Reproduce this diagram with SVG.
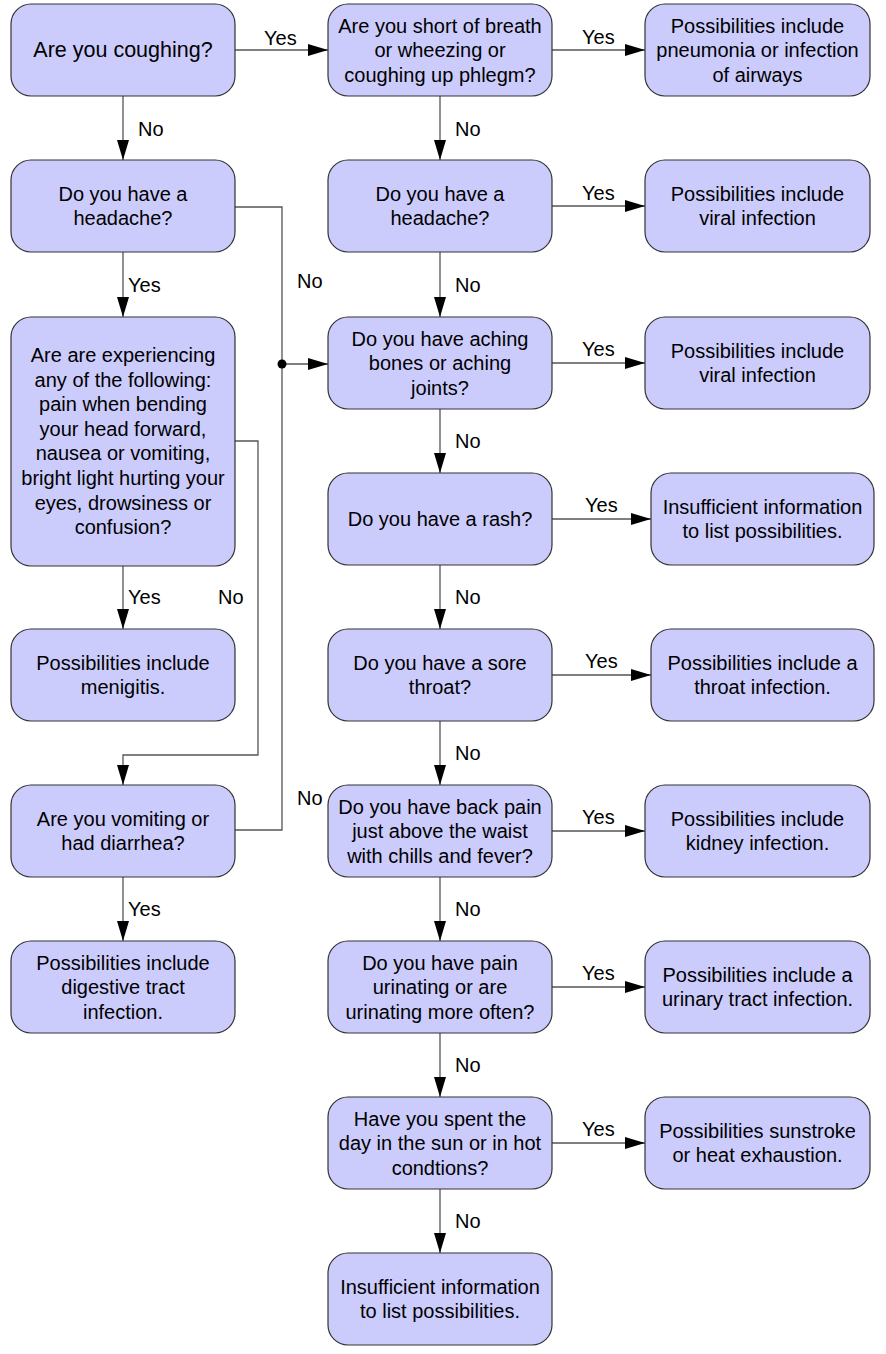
<svg xmlns="http://www.w3.org/2000/svg" width="886" height="1354" viewBox="0 0 886 1354">
<style>
.n rect{fill:#ccccfc;stroke:#333;stroke-width:1.2}
.n text{font-family:"Liberation Sans",Arial,sans-serif;font-size:20px;fill:#000;text-anchor:middle}
.c path{fill:none;stroke:#555;stroke-width:1.3}
.l text{font-family:"Liberation Sans",Arial,sans-serif;font-size:20px;fill:#000}
</style>
<defs>
<marker id="a" markerUnits="userSpaceOnUse" markerWidth="20" markerHeight="12" refX="20" refY="6" orient="auto">
<path d="M0,0 L20,6 L0,12 z" fill="#000"/>
</marker>
</defs>
<rect width="886" height="1354" fill="#fff"/>
<g class="c">
<path d="M235,50 H328" marker-end="url(#a)"/>
<path d="M552,50 H645" marker-end="url(#a)"/>
<path d="M123,96 V160" marker-end="url(#a)"/>
<path d="M440,96 V160" marker-end="url(#a)"/>
<path d="M552,206 H645" marker-end="url(#a)"/>
<path d="M123,252 V317" marker-end="url(#a)"/>
<path d="M440,252 V317" marker-end="url(#a)"/>
<path d="M235,207 H282 V364"/>
<path d="M235,830 H282 V364"/>
<path d="M282,364 H328" marker-end="url(#a)"/>
<circle cx="282" cy="364" r="4.5" fill="#000"/>
<path d="M552,363 H645" marker-end="url(#a)"/>
<path d="M440,409 V473" marker-end="url(#a)"/>
<path d="M552,519 H651" marker-end="url(#a)"/>
<path d="M440,565 V629" marker-end="url(#a)"/>
<path d="M123,566 V629" marker-end="url(#a)"/>
<path d="M235,441 H258 V755 H123 V785" marker-end="url(#a)"/>
<path d="M552,675 H651" marker-end="url(#a)"/>
<path d="M440,721 V785" marker-end="url(#a)"/>
<path d="M552,831 H645" marker-end="url(#a)"/>
<path d="M123,877 V941" marker-end="url(#a)"/>
<path d="M440,877 V941" marker-end="url(#a)"/>
<path d="M552,987 H645" marker-end="url(#a)"/>
<path d="M440,1033 V1097" marker-end="url(#a)"/>
<path d="M552,1143 H645" marker-end="url(#a)"/>
<path d="M440,1189 V1253" marker-end="url(#a)"/>
</g>
<g class="l">
<text x="264" y="45">Yes</text>
<text x="138" y="136">No</text>
<text x="128" y="292">Yes</text>
<text x="297" y="288">No</text>
<text x="128" y="604">Yes</text>
<text x="218" y="604">No</text>
<text x="297" y="805">No</text>
<text x="128" y="916">Yes</text>
<text x="455" y="136">No</text>
<text x="455" y="292">No</text>
<text x="455" y="448">No</text>
<text x="455" y="604">No</text>
<text x="455" y="760">No</text>
<text x="455" y="916">No</text>
<text x="455" y="1072">No</text>
<text x="455" y="1228">No</text>
<text x="582" y="44">Yes</text>
<text x="582" y="200">Yes</text>
<text x="582" y="356">Yes</text>
<text x="585" y="512">Yes</text>
<text x="585" y="668">Yes</text>
<text x="582" y="824">Yes</text>
<text x="582" y="980">Yes</text>
<text x="582" y="1136">Yes</text>
</g>
<g id="L1" class="n"><rect x="11" y="4" width="224" height="92" rx="20"/><text x="123" y="57" style="font-size:21.5px">Are you coughing?</text></g>
<g id="L2" class="n"><rect x="11" y="160" width="224" height="92" rx="20"/><text x="123" y="201">Do you have a</text><text x="123" y="225">headache?</text></g>
<g id="L3" class="n"><rect x="11" y="317" width="224" height="249" rx="20"/>
<text x="123" y="362">Are are experiencing</text>
<text x="123" y="386.6">any of the following:</text>
<text x="123" y="411.2">pain when bending</text>
<text x="123" y="435.8">your head forward,</text>
<text x="123" y="460.4">nausea or vomiting,</text>
<text x="123" y="485">bright light hurting your</text>
<text x="123" y="509.6">eyes, drowsiness or</text>
<text x="123" y="534.2">confusion?</text></g>
<g id="L4" class="n"><rect x="11" y="629" width="224" height="92" rx="20"/><text x="123" y="670">Possibilities include</text><text x="123" y="694">menigitis.</text></g>
<g id="L5" class="n"><rect x="11" y="785" width="224" height="92" rx="20"/><text x="123" y="826">Are you vomiting or</text><text x="123" y="850">had diarrhea?</text></g>
<g id="L6" class="n"><rect x="11" y="941" width="224" height="92" rx="20"/><text x="123" y="969.5">Possibilities include</text><text x="123" y="994">digestive tract</text><text x="123" y="1018.5">infection.</text></g>
<g id="M1" class="n"><rect x="328" y="4" width="224" height="92" rx="20"/><text x="440" y="32.5">Are you short of breath</text><text x="440" y="57">or wheezing or</text><text x="440" y="81.5">coughing up phlegm?</text></g>
<g id="M2" class="n"><rect x="328" y="160" width="224" height="92" rx="20"/><text x="440" y="201">Do you have a</text><text x="440" y="225">headache?</text></g>
<g id="M3" class="n"><rect x="328" y="317" width="224" height="92" rx="20"/><text x="440" y="345.5">Do you have aching</text><text x="440" y="370">bones or aching</text><text x="440" y="394.5">joints?</text></g>
<g id="M4" class="n"><rect x="328" y="473" width="224" height="92" rx="20"/><text x="440" y="526">Do you have a rash?</text></g>
<g id="M5" class="n"><rect x="328" y="629" width="224" height="92" rx="20"/><text x="440" y="670">Do you have a sore</text><text x="440" y="694">throat?</text></g>
<g id="M6" class="n"><rect x="328" y="785" width="224" height="92" rx="20"/><text x="440" y="813.5">Do you have back pain</text><text x="440" y="838">just above the waist</text><text x="440" y="862.5">with chills and fever?</text></g>
<g id="M7" class="n"><rect x="328" y="941" width="224" height="92" rx="20"/><text x="440" y="969.5">Do you have pain</text><text x="440" y="994">urinating or are</text><text x="440" y="1018.5">urinating more often?</text></g>
<g id="M8" class="n"><rect x="328" y="1097" width="224" height="92" rx="20"/><text x="440" y="1125.5">Have you spent the</text><text x="440" y="1150">day in the sun or in hot</text><text x="440" y="1174.5">condtions?</text></g>
<g id="M9" class="n"><rect x="328" y="1253" width="224" height="92" rx="20"/><text x="440" y="1294">Insufficient information</text><text x="440" y="1318">to list possibilities.</text></g>
<g id="R1" class="n"><rect x="645" y="4" width="225" height="92" rx="20"/><text x="757.5" y="32.5">Possibilities include</text><text x="757.5" y="57">pneumonia or infection</text><text x="757.5" y="81.5">of airways</text></g>
<g id="R2" class="n"><rect x="645" y="160" width="225" height="92" rx="20"/><text x="757.5" y="201">Possibilities include</text><text x="757.5" y="225">viral infection</text></g>
<g id="R3" class="n"><rect x="645" y="317" width="225" height="92" rx="20"/><text x="757.5" y="357.5">Possibilities include</text><text x="757.5" y="382">viral infection</text></g>
<g id="R4" class="n"><rect x="651" y="473" width="223" height="92" rx="20"/><text x="762.5" y="513.5">Insufficient information</text><text x="762.5" y="538">to list possibilities.</text></g>
<g id="R5" class="n"><rect x="651" y="629" width="223" height="92" rx="20"/><text x="762.5" y="669.5">Possibilities include a</text><text x="762.5" y="694">throat infection.</text></g>
<g id="R6" class="n"><rect x="645" y="785" width="225" height="92" rx="20"/><text x="757.5" y="825.5">Possibilities include</text><text x="757.5" y="850">kidney infection.</text></g>
<g id="R7" class="n"><rect x="645" y="941" width="225" height="92" rx="20"/><text x="757.5" y="981.5">Possibilities include a</text><text x="757.5" y="1006">urinary tract infection.</text></g>
<g id="R8" class="n"><rect x="645" y="1097" width="225" height="92" rx="20"/><text x="757.5" y="1137.5">Possibilities sunstroke</text><text x="757.5" y="1162">or heat exhaustion.</text></g>
</svg>
